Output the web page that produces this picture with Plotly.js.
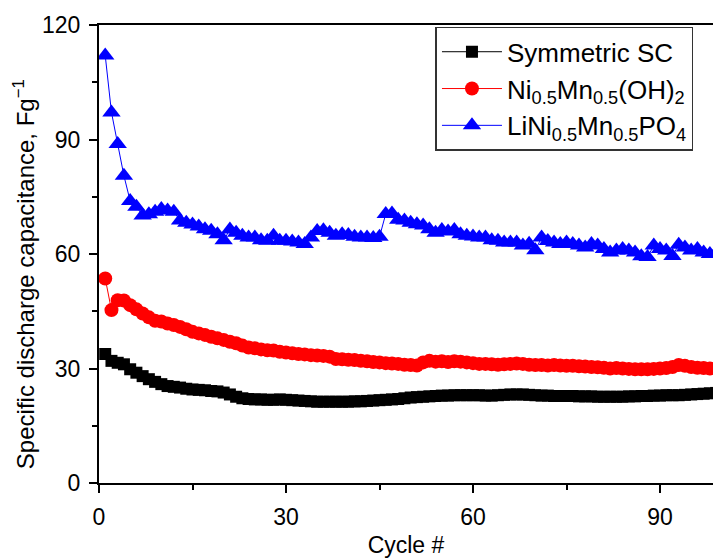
<!DOCTYPE html>
<html>
<head>
<meta charset="utf-8">
<script src="https://cdn.plot.ly/plotly-3.0.1.min.js"></script>
<style>html,body{margin:0;padding:0;background:#fff;}#chart{width:713px;height:558px;}</style>
</head>
<body>
<div id="chart"></div>
<script>
// Cycle numbers
const cycles = Array.from({length: 100}, (_, i) => i + 1);

// Symmetric SC (F/g)
const symmetricSC = [
33.8,32.0,31.5,31.1,29.8,28.9,28.0,27.2,26.5,25.9,
25.4,25.2,25.0,24.7,24.5,24.4,24.3,24.1,24.0,23.7,
23.2,22.6,22.2,22.0,21.9,21.9,21.8,21.8,21.9,21.8,
21.7,21.6,21.5,21.4,21.3,21.3,21.3,21.3,21.3,21.3,
21.4,21.4,21.5,21.6,21.7,21.8,21.9,22.0,22.2,22.4,
22.5,22.6,22.7,22.8,22.9,22.9,23.0,23.0,23.0,23.0,
23.0,22.9,22.9,23.0,23.1,23.2,23.2,23.2,23.1,23.0,
22.9,22.9,22.8,22.8,22.8,22.8,22.7,22.7,22.7,22.6,
22.6,22.6,22.6,22.6,22.7,22.7,22.8,22.8,22.9,22.9,
23.0,23.0,23.0,23.1,23.2,23.3,23.4,23.5,23.6,23.6
];

// Ni0.5Mn0.5(OH)2 (F/g)
const niMnOH = [
53.6,45.3,47.9,47.8,46.6,45.5,44.4,43.4,42.5,42.3,
41.8,41.4,40.9,40.3,39.6,39.2,38.8,38.3,37.9,37.5,
37.0,36.6,36.0,35.5,35.3,35.0,34.8,34.7,34.4,34.2,
34.0,33.8,33.7,33.5,33.4,33.3,33.1,32.5,32.4,32.3,
32.2,32.0,31.9,31.7,31.6,31.4,31.3,31.2,31.0,30.9,
30.8,31.6,32.0,31.8,31.9,31.7,31.9,31.8,31.6,31.4,
31.2,31.2,31.1,31.0,31.1,31.2,31.3,31.2,31.0,30.9,
30.9,30.8,30.9,30.8,30.7,30.7,30.6,30.5,30.4,30.3,
30.2,30.0,30.1,30.0,29.9,29.8,29.8,29.8,29.9,30.0,
30.1,30.4,30.9,30.7,30.4,30.2,30.1,30.0,30.0,29.9
];

// LiNi0.5Mn0.5PO4 (F/g)
const liNiMnPO4 = [
112.0,97.1,88.8,80.5,73.9,72.4,70.1,70.4,71.1,71.8,
71.4,71.1,68.8,68.2,67.7,67.2,66.5,66.1,65.2,63.6,
66.4,65.6,64.8,64.3,64.3,63.6,63.5,64.8,63.5,63.5,
63.3,63.0,62.6,64.3,66.0,66.2,65.6,64.8,65.2,65.0,
64.5,64.3,64.3,64.2,64.5,70.5,70.6,69.0,68.8,68.2,
67.8,67.5,66.5,65.6,66.3,65.9,66.3,65.2,64.8,64.6,
64.3,64.3,63.6,63.5,63.0,63.0,63.0,62.2,62.7,61.0,
64.3,63.4,63.0,62.6,63.0,62.6,62.2,61.7,62.6,62.2,
61.3,60.4,60.9,61.3,60.9,60.4,59.4,59.2,62.2,61.3,
60.9,59.5,62.4,61.7,60.9,61.3,60.4,60.0,60.3,60.0
];

const seriesNames = [
  'Symmetric SC',
  'Ni<sub>0.5</sub>Mn<sub>0.5</sub>(OH)<sub>2</sub>',
  'LiNi<sub>0.5</sub>Mn<sub>0.5</sub>PO<sub>4</sub>'
];

const xTicks = [0, 30, 60, 90];
const yTicks = [0, 30, 60, 90, 120];

const xTitle = 'Cycle #';
const yTitle = 'Specific discharge capacitance, Fg<sup>−1</sup>';

const FONT = 'Liberation Sans, Arial, sans-serif';

const traces = [
  {x: cycles, y: symmetricSC, name: seriesNames[0], type: 'scatter', mode: 'lines+markers',
   line: {color: '#000000', width: 1}, marker: {symbol: 'square', size: 12, color: '#000000'}},
  {x: cycles, y: niMnOH, name: seriesNames[1], type: 'scatter', mode: 'lines+markers',
   line: {color: '#ff0000', width: 1}, marker: {symbol: 'circle', size: 14, color: '#ff0000'}},
  {x: cycles, y: liNiMnPO4, name: seriesNames[2], type: 'scatter', mode: 'lines+markers',
   line: {color: '#0000ff', width: 1}, marker: {symbol: 'triangle-up', size: 16, color: '#0000ff'}}
];

const layout = {
  width: 713, height: 558,
  margin: {l: 99, r: 0, t: 25, b: 75},
  paper_bgcolor: '#ffffff', plot_bgcolor: '#ffffff',
  font: {family: FONT, color: '#000000'},
  showlegend: true,
  legend: {
    x: 0.548, y: 0.996, xanchor: 'left', yanchor: 'top',
    bordercolor: '#333333', borderwidth: 1.5, bgcolor: '#ffffff',
    font: {family: FONT, size: 26, color: '#000000'},
    tracegroupgap: 0, itemwidth: 60
  },
  xaxis: {
    range: [0, 98.5], tickvals: xTicks, ticktext: xTicks.map(String),
    ticks: 'outside', ticklen: 8, tickwidth: 2, tickcolor: '#000',
    ticklabelstandoff: 4,
    showline: true, linecolor: '#000', linewidth: 2, mirror: true,
    showgrid: false, zeroline: false,
    tickfont: {family: FONT, size: 23, color: '#000'},
    minor: {tickvals: [15, 45, 75], ticks: 'outside', ticklen: 5, tickwidth: 2, tickcolor: '#000', showgrid: false},
    title: {text: xTitle, font: {family: FONT, size: 23, color: '#000'}, standoff: 8}
  },
  yaxis: {
    range: [0, 120], tickvals: yTicks, ticktext: yTicks.map(String),
    ticks: 'outside', ticklen: 8, tickwidth: 2, tickcolor: '#000',
    ticklabelstandoff: 4,
    showline: true, linecolor: '#000', linewidth: 2,
    showgrid: false, zeroline: false,
    tickfont: {family: FONT, size: 23, color: '#000'},
    minor: {tickvals: [15, 45, 75, 105], ticks: 'outside', ticklen: 5, tickwidth: 2, tickcolor: '#000', showgrid: false},
    title: {text: ''}
  },
  annotations: [{
    text: yTitle, textangle: -90, showarrow: false,
    xref: 'paper', yref: 'paper', x: 0, y: 0.456,
    xanchor: 'center', yanchor: 'middle', xshift: -75,
    font: {family: FONT, size: 24, color: '#000'}
  }]
};

Plotly.newPlot('chart', traces, layout, {displayModeBar: false, staticPlot: true});
</script>
</body>
</html>
